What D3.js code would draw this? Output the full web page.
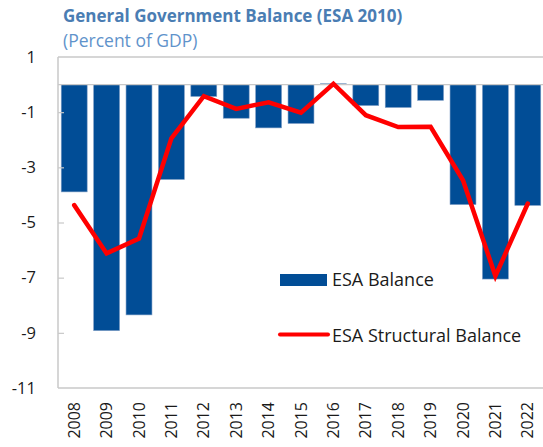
<!DOCTYPE html>
<html>
<head>
<meta charset="utf-8">
<script src="https://cdn.jsdelivr.net/npm/d3@7"></script>
<style>
  html, body { margin: 0; padding: 0; background: #fff; }
  svg { display: block; font-family: "Open Sans", "Noto Sans", sans-serif; }
</style>
</head>
<body>
<svg id="chart" width="543" height="447"></svg>
<script>
// Fiscal balance, percent of GDP
const years = ["2008","2009","2010","2011","2012","2013","2014","2015","2016","2017","2018","2019","2020","2021","2022"];
const esaBalance = [-3.89, -8.92, -8.35, -3.44, -0.43, -1.22, -1.57, -1.41, 0.03, -0.76, -0.83, -0.57, -4.35, -7.05, -4.38];
const esaStructural = [-4.37, -6.12, -5.58, -1.95, -0.42, -0.88, -0.64, -1.02, 0.03, -1.11, -1.54, -1.53, -3.47, -6.94, -4.31];
const yTicks = [1, -1, -3, -5, -7, -9, -11];

const svg = d3.select("#chart");
const m = { left: 58, right: -1, top: 57, bottom: 59 };
const W = 543, H = 447;

const x = d3.scaleBand().domain(years).range([m.left, W - m.right]).paddingInner(0.2).paddingOuter(0.1);
const y = d3.scaleLinear().domain([-11, 1]).range([H - m.bottom, m.top]);

// Title
svg.append("text").attr("x", 63).attr("y", 22)
  .attr("font-size", 17).attr("font-weight", 700).attr("fill", "#4a7db3")
  .text("General Government Balance (ESA 2010)");
svg.append("text").attr("x", 63).attr("y", 47)
  .attr("font-size", 17.5).attr("fill", "#5f93cb")
  .text("(Percent of GDP)");

// Plot frame: top line
svg.append("line").attr("x1", m.left).attr("x2", W).attr("y1", y(1)).attr("y2", y(1))
  .attr("stroke", "#c8c8c8").attr("stroke-width", 1.5);

// Bars
svg.append("g").selectAll("rect").data(years).join("rect")
  .attr("x", d => x(d))
  .attr("width", x.bandwidth())
  .attr("y", (d, i) => y(Math.max(0, esaBalance[i])))
  .attr("height", (d, i) => Math.abs(y(esaBalance[i]) - y(0)))
  .attr("fill", "#014d96")
  .attr("stroke", "#7d9cc4").attr("stroke-width", 0.6);

// Zero line
svg.append("line").attr("x1", m.left).attr("x2", W).attr("y1", y(0)).attr("y2", y(0))
  .attr("stroke", "#c8c8c8").attr("stroke-width", 1.2);

// Y axis
const yAxis = svg.append("g").attr("transform", `translate(${m.left},0)`)
  .call(d3.axisLeft(y).tickValues(yTicks).tickSize(-6).tickPadding(22).tickFormat(d3.format("d")));
yAxis.select(".domain").remove();
yAxis.selectAll(".tick line").attr("stroke", "#c8c8c8").attr("stroke-width", 1.2)
  .filter(d => d === 1 || d === -11).remove();
yAxis.selectAll(".tick text").attr("font-size", 16.5).attr("fill", "#1a1a1a")
  .attr("font-family", "'Open Sans', sans-serif")
  .text(d => d < 0 ? "-" + Math.abs(d) : d);
svg.append("line").attr("x1", m.left).attr("x2", m.left).attr("y1", y(1)).attr("y2", y(-11))
  .attr("stroke", "#c8c8c8").attr("stroke-width", 1.5);

// X axis
svg.append("line").attr("x1", m.left).attr("x2", W).attr("y1", y(-11)).attr("y2", y(-11))
  .attr("stroke", "#c8c8c8").attr("stroke-width", 1.5);
const xAxis = svg.append("g").attr("transform", `translate(0,${y(-11)})`)
  .call(d3.axisBottom(x).tickSize(0).tickPadding(0));
xAxis.select(".domain").remove();
xAxis.selectAll(".tick text")
  .attr("font-size", 16).attr("fill", "#1a1a1a")
  .attr("font-family", "'Open Sans', sans-serif")
  .attr("text-anchor", "end")
  .attr("dy", "0.35em")
  .attr("transform", "translate(0,14) rotate(-90)")
  .attr("x", 0).attr("y", 0);

// Structural balance line
const line = d3.line().x((d, i) => x(years[i]) + x.bandwidth() / 2).y(d => y(d));
svg.append("path").datum(esaStructural)
  .attr("d", line).attr("fill", "none")
  .attr("stroke", "#ff0000").attr("stroke-width", 4.5)
  .attr("stroke-linejoin", "miter").attr("stroke-linecap", "round");

// Legend
const lg = svg.append("g");
lg.append("rect").attr("x", 280).attr("y", 274).attr("width", 47).attr("height", 12).attr("fill", "#014d96");
lg.append("text").attr("x", 332).attr("y", 286).attr("font-size", 18).attr("fill", "#1a1a1a").text("ESA Balance");
lg.append("line").attr("x1", 280).attr("x2", 328).attr("y1", 334.5).attr("y2", 334.5)
  .attr("stroke", "#ff0000").attr("stroke-width", 4).attr("stroke-linecap", "round");
lg.append("text").attr("x", 332).attr("y", 342).attr("font-size", 18).attr("fill", "#1a1a1a").text("ESA Structural Balance");
</script>
</body>
</html>
